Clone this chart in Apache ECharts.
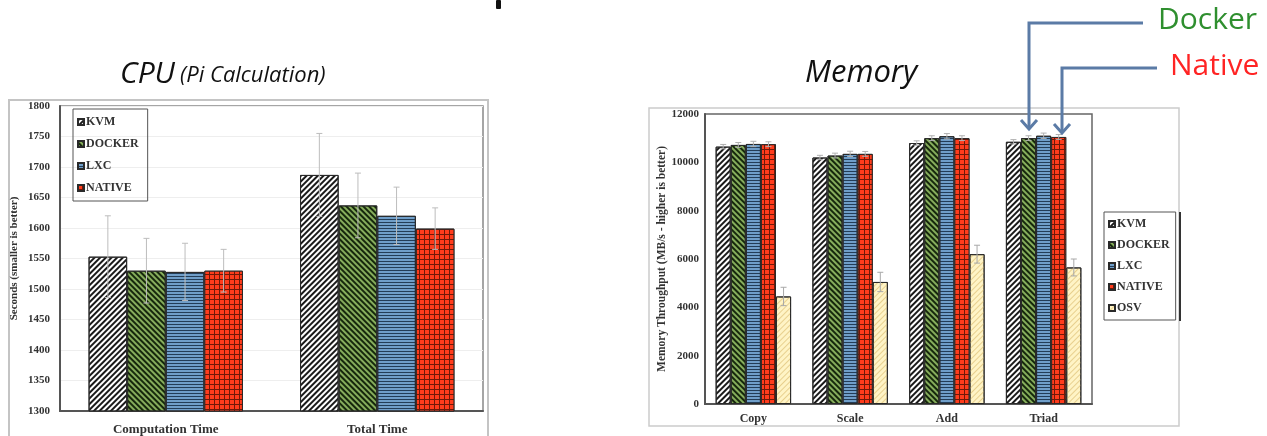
<!DOCTYPE html>
<html>
<head>
<meta charset="utf-8">
<script src="https://cdn.jsdelivr.net/npm/echarts@6/dist/echarts.min.js"></script>
<style>
  html, body { margin: 0; padding: 0; background: #fff; }
  #main { width: 1267px; height: 436px; }
</style>
</head>
<body>
<div id="main"></div>
<script>
// CPU (Pi calculation), seconds
var cpuCategories = ['Computation Time', 'Total Time'];
var cpuKvm = [1553, 1687];
var cpuDocker = [1530, 1637];
var cpuLxc = [1528, 1620];
var cpuNative = [1530, 1599];
var cpuKvmErr = [67, 68];
var cpuDockerErr = [53, 53];
var cpuLxcErr = [47, 47];
var cpuNativeErr = [35, 34];

// Memory throughput, MB/s
var memCategories = ['Copy', 'Scale', 'Add', 'Triad'];
var memKvm = [10650, 10200, 10800, 10850];
var memDocker = [10720, 10280, 11000, 11000];
var memLxc = [10760, 10350, 11080, 11100];
var memNative = [10750, 10350, 11000, 11050];
var memOsv = [4450, 5050, 6200, 5650];
var memKvmErr = [90, 90, 90, 90];
var memDockerErr = [100, 100, 100, 100];
var memLxcErr = [110, 110, 110, 110];
var memNativeErr = [100, 100, 100, 100];
var memOsvErr = [380, 400, 370, 350];

var serif = '"Liberation Serif", "Times New Roman", serif';
var sans = '"Open Sans", "Noto Sans", sans-serif';

var looks = {
    KVM: { color: '#ffffff', decal: { symbol: 'rect', color: '#1a1a1a', dashArrayX: [1, 0], dashArrayY: [2, 2], rotation: -Math.PI / 4 } },
    DOCKER: { color: '#86ad5c', decal: { symbol: 'rect', color: '#16280c', dashArrayX: [1, 0], dashArrayY: [2, 2], rotation: Math.PI / 4 } },
    LXC: { color: '#6f9ec9', decal: { symbol: 'rect', color: '#233d57', dashArrayX: [1, 0], dashArrayY: [1, 2], rotation: 0 } },
    NATIVE: { color: '#ff3c1c', decal: { symbol: 'rect', color: '#ff3c1c', backgroundColor: '#701808', dashArrayX: [4, 1], dashArrayY: [4, 1], rotation: 0 } },
    OSV: { color: '#fff4c6', decal: { symbol: 'rect', color: '#e8d08e', dashArrayX: [1, 0], dashArrayY: [1, 3], rotation: -Math.PI / 4 } }
};

function barSeries(name, data, grid, gap) {
    return {
        name: name,
        type: 'bar',
        xAxisIndex: grid,
        yAxisIndex: grid,
        barGap: '0%',
        barCategoryGap: gap * 100 + '%',
        itemStyle: {
            color: looks[name].color,
            borderColor: '#2a2a2a',
            borderWidth: 1,
            decal: looks[name].decal
        },
        z: 2,
        data: data
    };
}

function errorSeries(name, values, errs, idx, n, gap, grid, color) {
    var data = values.map(function (v, i) { return [i, v - errs[i], v + errs[i]]; });
    return {
        name: name + ' err',
        type: 'custom',
        xAxisIndex: grid,
        yAxisIndex: grid,
        silent: true,
        z: 5,
        encode: { x: 0, y: [1, 2] },
        data: data,
        renderItem: function (params, api) {
            var i = api.value(0);
            var band = api.size([1, 0])[0];
            var bw = band * (1 - gap) / n;
            var x = api.coord([i, api.value(1)])[0] + (idx - (n - 1) / 2) * bw;
            var hi = api.coord([i, api.value(2)])[1];
            var lo = api.coord([i, api.value(1)])[1];
            var st = { stroke: color, lineWidth: 1 };
            return {
                type: 'group',
                children: [
                    { type: 'line', shape: { x1: x, y1: lo, x2: x, y2: hi }, style: st },
                    { type: 'line', shape: { x1: x - 3, y1: hi, x2: x + 3, y2: hi }, style: st },
                    { type: 'line', shape: { x1: x - 3, y1: lo, x2: x + 3, y2: lo }, style: st }
                ]
            };
        }
    };
}

var tickLabel = {
    fontFamily: serif, fontWeight: 'bold', fontSize: 11, color: '#333',
    formatter: function (v) { return String(v); }
};

var cpuGap = 0.27, memGap = 0.22;

var option = {
    animation: false,
    title: [{
        text: '{a|CPU} {b|(Pi Calculation)}',
        left: 120,
        top: 59,
        padding: 0,
        textStyle: {
            fontWeight: 'normal',
            rich: {
                a: { fontFamily: sans, fontStyle: 'italic', fontWeight: 'normal', fontSize: 30, color: '#111' },
                b: { fontFamily: sans, fontStyle: 'italic', fontWeight: 'normal', fontSize: 22, color: '#111', padding: [4, 0, 0, 0] }
            }
        }
    }, {
        text: 'Memory',
        left: 805,
        top: 58,
        padding: 0,
        textStyle: { fontFamily: sans, fontStyle: 'italic', fontWeight: 'normal', fontSize: 31, color: '#111' }
    }],
    legend: [{
        orient: 'vertical',
        left: 73,
        top: 109,
        data: ['KVM', 'DOCKER', 'LXC', 'NATIVE'],
        icon: 'rect',
        itemWidth: 6,
        itemHeight: 6,
        itemGap: 10,
        padding: [7, 9, 7, 4],
        borderColor: '#555',
        borderWidth: 1,
        selectedMode: false,
        textStyle: { fontFamily: serif, fontWeight: 'bold', fontSize: 12, lineHeight: 12, color: '#333', padding: [0, 0, 0, -3] }
    }, {
        orient: 'vertical',
        left: 1104,
        top: 212,
        data: ['KVM', 'DOCKER', 'LXC', 'NATIVE', 'OSV'],
        icon: 'rect',
        itemWidth: 6,
        itemHeight: 6,
        itemGap: 9,
        padding: [6, 6, 6, 4],
        borderColor: '#555',
        borderWidth: 1,
        selectedMode: false,
        textStyle: { fontFamily: serif, fontWeight: 'bold', fontSize: 12, lineHeight: 12, color: '#333', padding: [0, 0, 0, -3] }
    }],
    grid: [
        { left: 60, top: 106, right: 784, bottom: 21, show: true, borderColor: '#888', borderWidth: 1.5 },
        { left: 705, top: 114, right: 175, bottom: 32, show: true, borderColor: '#666', borderWidth: 1.5 }
    ],
    xAxis: [{
        type: 'category',
        gridIndex: 0,
        data: cpuCategories,
        axisTick: { show: false },
        axisLine: { lineStyle: { color: '#555', width: 2 } },
        axisLabel: { margin: 12, fontFamily: serif, fontWeight: 'bold', fontSize: 13, color: '#333' }
    }, {
        type: 'category',
        gridIndex: 1,
        data: memCategories,
        axisTick: { show: false },
        axisLine: { lineStyle: { color: '#555', width: 2 } },
        axisLabel: { margin: 9, fontFamily: serif, fontWeight: 'bold', fontSize: 12, color: '#333' }
    }],
    yAxis: [{
        type: 'value',
        gridIndex: 0,
        min: 1300,
        max: 1800,
        interval: 50,
        name: 'Seconds (smaller is better)',
        nameLocation: 'middle',
        nameGap: 40,
        nameTextStyle: { fontFamily: serif, fontWeight: 'bold', fontSize: 11, color: '#333' },
        axisLine: { show: true, lineStyle: { color: '#555', width: 2 } },
        axisTick: { show: false },
        axisLabel: Object.assign({ margin: 10 }, tickLabel),
        splitLine: { lineStyle: { color: '#eeeeee', width: 1 } }
    }, {
        type: 'value',
        gridIndex: 1,
        min: 0,
        max: 12000,
        interval: 2000,
        name: 'Memory Throughput (MB/s - higher is better)',
        nameLocation: 'middle',
        nameGap: 37,
        nameTextStyle: { fontFamily: serif, fontWeight: 'bold', fontSize: 11.5, color: '#333' },
        axisLine: { show: true, lineStyle: { color: '#555', width: 2 } },
        axisTick: { show: false },
        axisLabel: Object.assign({ margin: 6 }, tickLabel),
        splitLine: { show: false }
    }],
    graphic: [
        // outer frames of the two pasted figures
        { type: 'rect', shape: { x: 9, y: 100, width: 479, height: 345 }, style: { fill: 'none', stroke: '#c4c4c4', lineWidth: 2 }, z: -1 },
        { type: 'rect', shape: { x: 649, y: 108, width: 530, height: 318 }, style: { fill: 'none', stroke: '#cccccc', lineWidth: 1.5 }, z: -1 },
        { type: 'line', shape: { x1: 1180, y1: 212, x2: 1180, y2: 321 }, style: { stroke: '#333', lineWidth: 2 } },
        // cut-off slide title fragment
        { type: 'rect', shape: { x: 496, y: 0, width: 5, height: 9, r: 1 }, style: { fill: '#111' } },
        // annotation arrows
        { type: 'polyline', shape: { points: [[1143, 23], [1029, 23], [1029, 129]] }, style: { stroke: '#5b7ba6', lineWidth: 3, fill: 'none' }, z: 100 },
        { type: 'polyline', shape: { points: [[1021, 120], [1029, 129], [1037, 120]] }, style: { stroke: '#5b7ba6', lineWidth: 3, fill: 'none' }, z: 100 },
        { type: 'polyline', shape: { points: [[1157, 68], [1062, 68], [1062, 133]] }, style: { stroke: '#5b7ba6', lineWidth: 3, fill: 'none' }, z: 100 },
        { type: 'polyline', shape: { points: [[1054, 124], [1062, 133], [1070, 124]] }, style: { stroke: '#5b7ba6', lineWidth: 3, fill: 'none' }, z: 100 },
        { type: 'text', left: 1158, top: 5, style: { text: 'Docker', font: '30px ' + sans, fill: '#2f8f2f' }, z: 100 },
        { type: 'text', left: 1170, top: 51, style: { text: 'Native', font: '30px ' + sans, fill: '#ff2424' }, z: 100 }
    ],
    series: [
        barSeries('KVM', cpuKvm, 0, cpuGap),
        barSeries('DOCKER', cpuDocker, 0, cpuGap),
        barSeries('LXC', cpuLxc, 0, cpuGap),
        barSeries('NATIVE', cpuNative, 0, cpuGap),
        errorSeries('KVM', cpuKvm, cpuKvmErr, 0, 4, cpuGap, 0, '#bdbdbd'),
        errorSeries('DOCKER', cpuDocker, cpuDockerErr, 1, 4, cpuGap, 0, '#bdbdbd'),
        errorSeries('LXC', cpuLxc, cpuLxcErr, 2, 4, cpuGap, 0, '#bdbdbd'),
        errorSeries('NATIVE', cpuNative, cpuNativeErr, 3, 4, cpuGap, 0, '#bdbdbd'),
        barSeries('KVM', memKvm, 1, memGap),
        barSeries('DOCKER', memDocker, 1, memGap),
        barSeries('LXC', memLxc, 1, memGap),
        barSeries('NATIVE', memNative, 1, memGap),
        barSeries('OSV', memOsv, 1, memGap),
        errorSeries('KVM', memKvm, memKvmErr, 0, 5, memGap, 1, '#b0b0b0'),
        errorSeries('DOCKER', memDocker, memDockerErr, 1, 5, memGap, 1, '#b0b0b0'),
        errorSeries('LXC', memLxc, memLxcErr, 2, 5, memGap, 1, '#b0b0b0'),
        errorSeries('NATIVE', memNative, memNativeErr, 3, 5, memGap, 1, '#b0b0b0'),
        errorSeries('OSV', memOsv, memOsvErr, 4, 5, memGap, 1, '#a8a8a8')
    ]
};

var chart = echarts.init(document.getElementById('main'));
chart.setOption(option);
</script>
</body>
</html>
